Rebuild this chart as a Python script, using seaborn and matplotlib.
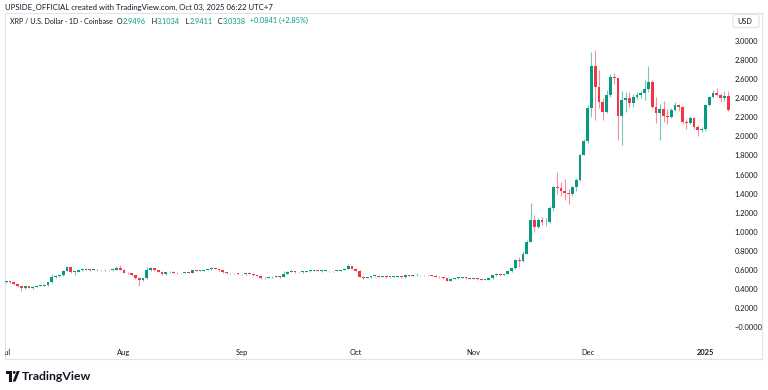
import numpy as np
import pandas as pd
import matplotlib
matplotlib.use("Agg")
import matplotlib.pyplot as plt
from matplotlib.patches import FancyBboxPatch, Polygon, Circle
from matplotlib.transforms import Bbox, TransformedBbox
import seaborn as sns


# XRP / USD daily candles, 2024-07-01 .. 2025-01-07.
first_open = 0.474

close_jul = [0.476, 0.472, 0.452, 0.430, 0.408, 0.432, 0.415, 0.425, 0.433, 0.437,
             0.440, 0.470, 0.527, 0.533, 0.545, 0.590, 0.628, 0.578, 0.583, 0.600,
             0.603, 0.610, 0.601, 0.604, 0.596, 0.600, 0.597, 0.598, 0.605, 0.625, 0.602]
high_jul = [0.485, 0.482, 0.475, 0.455, 0.433, 0.437, 0.435, 0.437, 0.440, 0.445,
            0.455, 0.475, 0.560, 0.545, 0.552, 0.600, 0.638, 0.632, 0.590, 0.605,
            0.610, 0.618, 0.614, 0.610, 0.607, 0.604, 0.606, 0.603, 0.612, 0.640, 0.652]
low_jul = [0.468, 0.465, 0.448, 0.425, 0.385, 0.405, 0.410, 0.405, 0.422, 0.428,
           0.432, 0.435, 0.468, 0.520, 0.525, 0.540, 0.585, 0.565, 0.550, 0.580,
           0.592, 0.598, 0.595, 0.596, 0.585, 0.592, 0.590, 0.591, 0.594, 0.600, 0.598]

close_aug = [0.574, 0.564, 0.548, 0.515, 0.492, 0.512, 0.600, 0.624, 0.600, 0.584,
             0.560, 0.576, 0.582, 0.572, 0.565, 0.570, 0.572, 0.570, 0.600, 0.591,
             0.593, 0.600, 0.607, 0.617, 0.611, 0.596, 0.577, 0.565, 0.568, 0.565, 0.560]
high_aug = [0.606, 0.580, 0.568, 0.552, 0.520, 0.518, 0.635, 0.630, 0.626, 0.602,
            0.588, 0.580, 0.588, 0.586, 0.575, 0.574, 0.576, 0.578, 0.603, 0.604,
            0.598, 0.604, 0.612, 0.630, 0.620, 0.614, 0.600, 0.580, 0.574, 0.572, 0.568]
low_aug = [0.565, 0.555, 0.540, 0.508, 0.436, 0.488, 0.508, 0.594, 0.595, 0.580,
           0.552, 0.552, 0.570, 0.566, 0.558, 0.562, 0.566, 0.565, 0.566, 0.586,
           0.585, 0.590, 0.596, 0.604, 0.606, 0.592, 0.570, 0.558, 0.560, 0.558, 0.555]

close_sep = [0.555, 0.569, 0.563, 0.550, 0.540, 0.513, 0.520, 0.524, 0.530, 0.536,
             0.527, 0.562, 0.583, 0.592, 0.575, 0.578, 0.583, 0.588, 0.593, 0.596,
             0.590, 0.590, 0.592, 0.585, 0.590, 0.592, 0.600, 0.615, 0.642, 0.614]
high_sep = [0.563, 0.573, 0.575, 0.566, 0.553, 0.545, 0.524, 0.529, 0.535, 0.540,
            0.540, 0.590, 0.590, 0.596, 0.594, 0.582, 0.588, 0.592, 0.598, 0.602,
            0.598, 0.596, 0.598, 0.595, 0.594, 0.598, 0.606, 0.620, 0.662, 0.646]
low_sep = [0.548, 0.550, 0.558, 0.540, 0.535, 0.505, 0.510, 0.515, 0.520, 0.526,
           0.520, 0.525, 0.558, 0.578, 0.570, 0.570, 0.574, 0.578, 0.584, 0.588,
           0.585, 0.582, 0.585, 0.580, 0.582, 0.585, 0.588, 0.596, 0.610, 0.606]

close_oct = [0.593, 0.530, 0.516, 0.523, 0.535, 0.537, 0.530, 0.530, 0.526, 0.526,
             0.531, 0.536, 0.523, 0.548, 0.540, 0.545, 0.548, 0.545, 0.546, 0.545,
             0.540, 0.530, 0.523, 0.513, 0.490, 0.510, 0.515, 0.520, 0.525, 0.515, 0.508]
high_oct = [0.618, 0.596, 0.534, 0.528, 0.540, 0.542, 0.542, 0.535, 0.534, 0.530,
            0.536, 0.540, 0.538, 0.552, 0.552, 0.550, 0.565, 0.552, 0.550, 0.550,
            0.550, 0.544, 0.534, 0.528, 0.516, 0.514, 0.520, 0.524, 0.532, 0.528, 0.518]
low_oct = [0.585, 0.522, 0.505, 0.512, 0.520, 0.530, 0.524, 0.522, 0.520, 0.518,
           0.522, 0.528, 0.518, 0.520, 0.534, 0.536, 0.540, 0.540, 0.540, 0.538,
           0.535, 0.526, 0.518, 0.508, 0.482, 0.488, 0.506, 0.510, 0.516, 0.510, 0.502]

close_nov = [0.510, 0.505, 0.500, 0.500, 0.513, 0.545, 0.558, 0.550, 0.560, 0.590,
             0.620, 0.705, 0.690, 0.772, 0.897, 1.123, 1.053, 1.123, 1.100, 1.106,
             1.246, 1.472, 1.455, 1.430, 1.410, 1.395, 1.472, 1.542, 1.804, 1.950]
high_nov = [0.516, 0.513, 0.508, 0.506, 0.518, 0.552, 0.565, 0.562, 0.565, 0.600,
            0.625, 0.720, 0.740, 0.800, 0.910, 1.300, 1.180, 1.140, 1.160, 1.140,
            1.270, 1.480, 1.630, 1.520, 1.550, 1.450, 1.480, 1.560, 1.820, 1.970]
low_nov = [0.502, 0.500, 0.494, 0.494, 0.498, 0.510, 0.540, 0.545, 0.546, 0.556,
           0.578, 0.610, 0.635, 0.680, 0.765, 0.890, 1.000, 1.040, 1.070, 1.060,
           1.090, 1.220, 1.400, 1.380, 1.330, 1.290, 1.380, 1.430, 1.530, 1.800]

close_dec = [2.300, 2.735, 2.519, 2.362, 2.257, 2.432, 2.624, 2.606, 2.212, 2.379,
             2.397, 2.344, 2.410, 2.430, 2.456, 2.491, 2.571, 2.309, 2.247, 2.281,
             2.212, 2.198, 2.275, 2.327, 2.302, 2.152, 2.142, 2.187, 2.093, 2.065, 2.076]
high_dec = [2.330, 2.885, 2.900, 2.690, 2.400, 2.480, 2.650, 2.660, 2.610, 2.470,
            2.460, 2.460, 2.440, 2.460, 2.470, 2.590, 2.735, 2.590, 2.410, 2.340,
            2.370, 2.290, 2.300, 2.360, 2.340, 2.320, 2.180, 2.210, 2.200, 2.120, 2.100]
low_dec = [1.930, 2.200, 2.170, 2.300, 2.170, 2.240, 2.410, 2.550, 1.960, 1.910,
           2.250, 2.310, 2.310, 2.390, 2.400, 2.380, 2.460, 2.300, 2.140, 1.960,
           2.150, 2.130, 2.190, 2.260, 2.270, 2.130, 2.080, 2.130, 2.080, 2.000, 2.040]

close_jan = [2.327, 2.408, 2.456, 2.432, 2.404, 2.421, 2.275]
high_jan = [2.340, 2.420, 2.480, 2.510, 2.450, 2.470, 2.470]
low_jan = [2.060, 2.320, 2.400, 2.420, 2.360, 2.370, 2.270]

price_ticks = [0.0, 0.2, 0.4, 0.6, 0.8, 1.0, 1.2, 1.4, 1.6, 1.8, 2.0, 2.2, 2.4, 2.6, 2.8, 3.0]
price_labels = ["\u22120.0000", "0.2000", "0.4000", "0.6000", "0.8000", "1.0000", "1.2000",
                "1.4000", "1.6000", "1.8000", "2.0000", "2.2000", "2.4000", "2.6000",
                "2.8000", "3.0000"]
month_ticks = ["2024-07-01", "2024-08-01", "2024-09-01", "2024-10-01", "2024-11-01",
               "2024-12-01", "2025-01-01"]
month_labels = ["Jul", "Aug", "Sep", "Oct", "Nov", "Dec", "2025"]

header = "UPSIDE_OFFICIAL created with TradingView.com, Oct 03, 2025 06:22 UTC+7"
symbol = "XRP / U.S. Dollar \u00b7 1D \u00b7 Coinbase"
ohlc_text = [("  O", "dark"), ("2.9496", "up"), ("   H", "dark"), ("3.1034", "up"),
             ("   L", "dark"), ("2.9411", "up"), ("   C", "dark"), ("3.0338", "up"),
             ("  +0.0841 (+2.85%)", "up")]


# Building the dataframe.
dates = pd.date_range("2024-07-01", "2025-01-07", freq="D")
close = np.array(close_jul + close_aug + close_sep + close_oct + close_nov + close_dec + close_jan)
high = np.array(high_jul + high_aug + high_sep + high_oct + high_nov + high_dec + high_jan)
low = np.array(low_jul + low_aug + low_sep + low_oct + low_nov + low_dec + low_jan)
df = pd.DataFrame({"date": dates, "close": close, "high": high, "low": low})
df["open"] = df["close"].shift(1).fillna(first_open)  # crypto: open = previous close
df["up"] = df["close"] >= df["open"]
df["body_low"] = df[["open", "close"]].min(axis=1)
df["body_h"] = (df["close"] - df["open"]).abs().clip(lower=0.008)

UP = "#089981"
DOWN = "#f23645"
DARK = "#131722"
GREY = "#e0e3eb"
colours = {"up": UP, "dark": DARK}


"""Plotting"""
sns.set_theme(style="white")
plt.rcParams["font.family"] = ["Lato", "DejaVu Sans"]

W, H = 768, 390
fig = plt.figure(figsize=(W / 100, H / 100), dpi=100)
fig.patch.set_facecolor("white")

# Overlay in pixel units for frame, header and logo.
ov = fig.add_axes([0, 0, 1, 1])
ov.set_xlim(0, W)
ov.set_ylim(H, 0)
ov.axis("off")

ax = fig.add_axes([5 / W, 1 - 343 / H, (731 - 5) / W, (343 - 13) / H])
ax.set_facecolor("none")

body_colours = np.where(df["up"], UP, DOWN)
wick_colours = [matplotlib.colors.to_rgba(c, 0.55) for c in body_colours]
ax.vlines(df["date"], df["low"], df["high"], colors=wick_colours, linewidth=0.8)
ax.bar(df["date"], df["body_h"], bottom=df["body_low"], width=0.7,
       color=body_colours, linewidth=0)

aug1 = pd.Timestamp("2024-08-01")
px_day = 3.8
ax.set_xlim(aug1 + pd.Timedelta(days=(5 - 124) / px_day),
            aug1 + pd.Timedelta(days=(731 - 124) / px_day))
ax.set_ylim(-0.164, 3.291)

ax.yaxis.tick_right()
ax.set_yticks(price_ticks, price_labels)
ax.set_xticks(pd.to_datetime(month_ticks), month_labels)
ax.tick_params(axis="y", length=0, pad=2.5, labelsize=5.4, labelcolor=DARK)
ax.tick_params(axis="x", length=0, pad=4.5, labelsize=5.4, labelcolor=DARK)
ax.get_xticklabels()[-1].set_fontweight("bold")
clip = TransformedBbox(Bbox([[5 / W, 0], [762 / W, 1]]), fig.transFigure)
ax.get_xticklabels()[0].set_clip_box(clip)
ax.get_xticklabels()[0].set_clip_on(True)
ax.grid(False)
for s in ax.spines.values():
    s.set_visible(False)

# Frame and USD box.
ov.plot([5, 762, 762, 5, 5], [12.5, 12.5, 359, 359, 12.5], color=GREY, lw=0.8)
ov.add_patch(FancyBboxPatch((733, 14.5), 26, 13, boxstyle="round,pad=0,rounding_size=2",
                            fc="white", ec=GREY, lw=0.8))
ov.text(737, 21, "USD", fontsize=5.2, color=DARK, va="center", ha="left")

# Header texts.
ov.text(5, 7, header, fontsize=5.6, color=DARK, va="center", ha="left")
prev = ov.text(10, 21, symbol, fontsize=5.1, color=DARK, va="center", ha="left")
for s, c in ohlc_text:
    prev = ov.annotate(s, xy=(1, 0), xycoords=prev, va="bottom", ha="left",
                       fontsize=5.35, color=colours[c])

# TradingView logo.
ov.add_patch(Polygon([(6, 371), (12, 371), (12, 381.5), (9.3, 381.5), (9.3, 373.7), (6, 373.7)],
                     closed=True, fc=DARK, ec="none"))
ov.add_patch(Circle((14.2, 372.4), 1.4, fc=DARK, ec="none"))
ov.add_patch(Polygon([(16.8, 371), (19.8, 371), (15.6, 381.5), (12.6, 381.5)],
                     closed=True, fc=DARK, ec="none"))
ov.text(22, 376.5, "TradingView", fontsize=8.8, fontweight="bold", color=DARK,
        va="center", ha="left")

fig.savefig("out.png", dpi=100)
